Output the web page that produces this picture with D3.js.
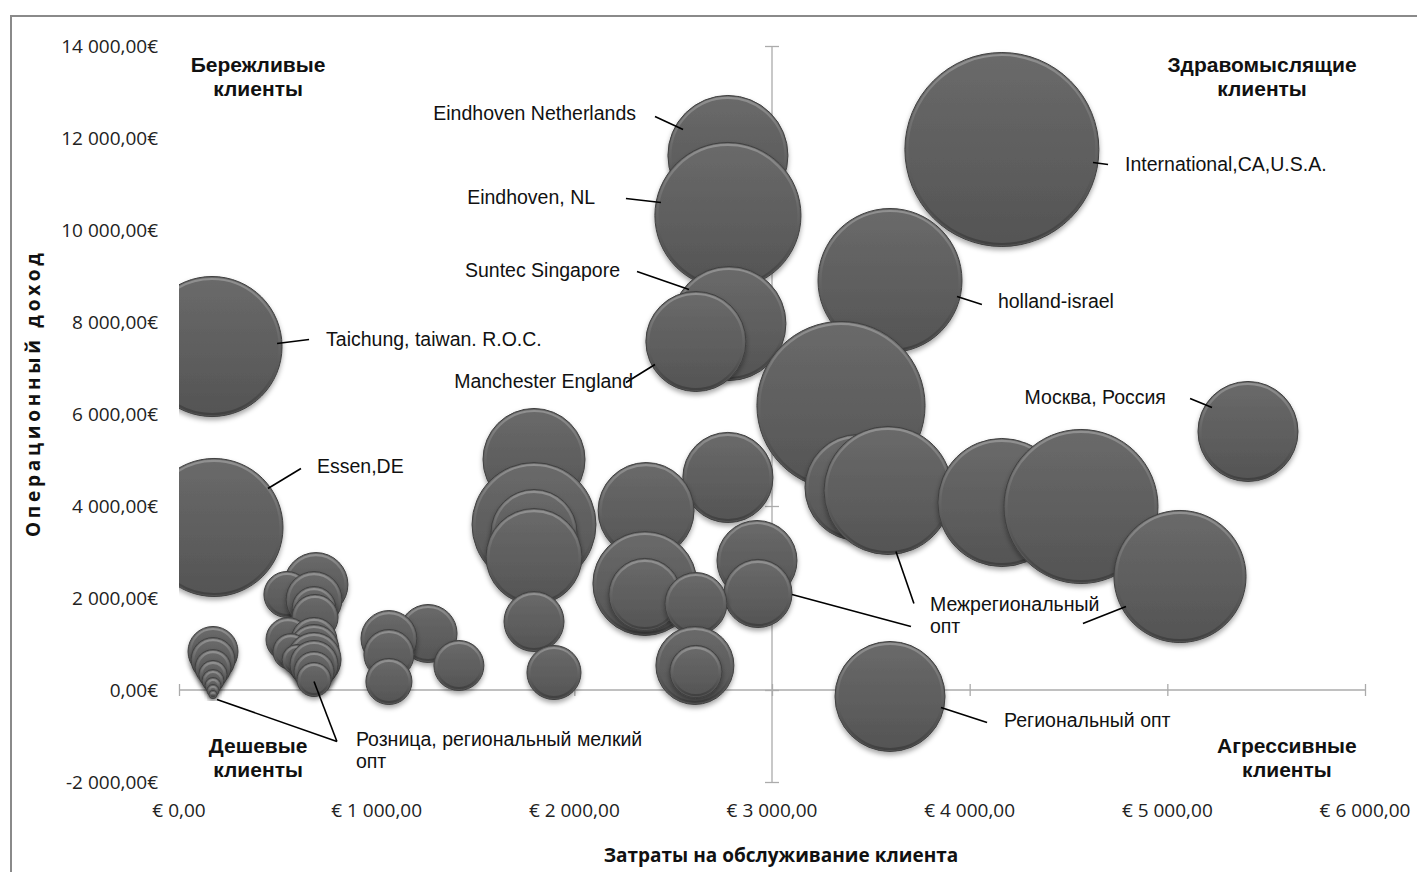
<!DOCTYPE html>
<meta charset="utf-8">
<script src="https://cdn.jsdelivr.net/npm/d3@7"></script>
<html>
<head>
<style>
body { margin: 0; background: #fff; }
.tick-label { font-family: "Open Sans", sans-serif; font-size: 19px; fill: #222; }
.axis-title { font-family: "Open Sans", sans-serif; font-size: 19px; font-weight: bold; fill: #111; }
.note { font-family: "Liberation Sans", Arial, sans-serif; font-size: 19.5px; fill: #111; }
.quad { font-family: "Liberation Sans", Arial, sans-serif; font-size: 21px; font-weight: bold; fill: #111; }
</style>
</head>
<body>
<div id="chart"></div>
<script>

// ---- data ----
var names = [
  "International,CA,U.S.A.", "Eindhoven Netherlands", "Eindhoven, NL", "holland-israel",
  "Suntec Singapore", "Manchester England", "Taichung, taiwan. R.O.C.", "",
  "Москва, Россия", "", "", "", "", "", "", "", "", "Essen,DE", "", "", "", "", "", "",
  "", "", "", "", "", "", "", "", "", "", "", "", "", "", "", "", "", "", "", "", "",
  "", "", "", "", "", "", "", "", "", "", "", "Региональный опт", ""
];
// затраты на обслуживание клиента, €
var cost = [
  4163, 2777, 2777, 3597, 2782, 2615, 167, 3349,
  5408, 1796, 2777, 3435, 3587, 4163, 4563, 2363, 1796, 177, 1796, 1796, 2924, 5064, 2357, 693,
  2929, 2357, 546, 683, 2615, 683, 688, 1796, 1260, 1062, 551, 683, 683, 566, 172, 1062, 683, 597, 172, 683, 1416,
  2610, 172, 683, 2615, 1897, 172, 683, 172, 1062, 172, 172, 3597, 172
];
// операционный доход, €
var income = [
  11750, 11620, 10315, 8902, 7967, 7576, 7467, 6185,
  5620, 5011, 4620, 4402, 4337, 4076, 3989, 3902, 3598, 3533, 3424, 2902, 2815, 2467, 2315, 2293,
  2098, 2076, 2076, 1967, 1880, 1772, 1576, 1489, 1228, 1120, 1098, 1076, 880, 837, 837, 772, 663, 663, 663, 554, 533,
  533, 489, 402, 402, 380, 337, 228, 207, 185, 98, -11, -141, -98
];
// объём (размер пузырька)
var volume = [
  9400, 3600, 5330, 5180, 3250, 2500, 4900, 7060,
  2500, 2600, 2030, 2810, 4100, 4100, 5930, 2300, 3840, 4760, 1850, 2300, 1600, 4360, 2700, 1020,
  1160, 1300, 530, 780, 960, 480, 530, 900, 840, 780, 480, 530, 625, 320, 625, 625, 730, 225, 480, 576, 625,
  1520, 320, 400, 680, 730, 200, 290, 120, 530, 64, 36, 3025, 16
];

var xTicks = [0, 1000, 2000, 3000, 4000, 5000, 6000];
var yTicks = [-2000, 0, 2000, 4000, 6000, 8000, 10000, 12000, 14000];

// подписи и выноски (в координатах данных)
var notes = [
  { text: ["Eindhoven Netherlands"], at: [2312, 12533], anchor: "end", leaders: [[[2550, 12185], [2408, 12467]]] },
  { text: ["Eindhoven, NL"], at: [2105, 10728], anchor: "end", leaders: [[[2438, 10598], [2261, 10685]]] },
  { text: ["Suntec Singapore"], at: [2231, 9141], anchor: "end", leaders: [[[2580, 8707], [2317, 9098]]] },
  { text: ["Manchester England"], at: [2297, 6728], anchor: "end", leaders: [[[2408, 7076], [2261, 6685]]] },
  { text: ["Taichung, taiwan. R.O.C."], at: [744, 7641], anchor: "start", leaders: [[[496, 7533], [658, 7620]]] },
  { text: ["Essen,DE"], at: [698, 4880], anchor: "start", leaders: [[[450, 4380], [617, 4815]]] },
  { text: ["holland-israel"], at: [4143, 8446], anchor: "start", leaders: [[[3936, 8554], [4062, 8380]]] },
  { text: ["International,CA,U.S.A."], at: [4786, 11424], anchor: "start", leaders: [[[4624, 11467], [4700, 11424]]] },
  { text: ["Москва, Россия"], at: [4993, 6359], anchor: "end", leaders: [[[5226, 6141], [5115, 6337]]] },
  { text: ["Региональный опт"], at: [4174, -663], anchor: "start", leaders: [[[3855, -380], [4088, -707]]] },
  { text: ["Межрегиональный", "опт"], at: [3799, 1859], anchor: "start",
    leaders: [[[3627, 3011], [3718, 1880]], [[3101, 2076], [3703, 1380]], [[4791, 1815], [4573, 1446]]] },
  { text: ["Розница, региональный мелкий", "опт"], at: [895, -1076], anchor: "start",
    leaders: [[[192, -207], [799, -1120]], [[683, 185], [799, -1120]]] }
];

var quadrants = [
  { text: ["Бережливые", "клиенты"], at: [400, 13600] },
  { text: ["Здравомыслящие", "клиенты"], at: [5479, 13600] },
  { text: ["Дешевые", "клиенты"], at: [400, -1185] },
  { text: ["Агрессивные", "клиенты"], at: [5605, -1185] }
];

// ---- layout ----
var W = 1417, H = 872;
var margin = { top: 46, right: 52, bottom: 90, left: 179 };
var width = W - margin.left - margin.right,
    height = H - margin.top - margin.bottom;

var svg = d3.select("#chart").append("svg")
    .attr("width", W).attr("height", H);

// рамка диаграммы
svg.append("path")
    .attr("d", "M11,872 V16 H1417")
    .attr("fill", "none").attr("stroke", "#8a8a8a").attr("stroke-width", 2);

var defs = svg.append("defs");
var fill = defs.append("linearGradient").attr("id", "bfill").attr("x1", 0).attr("y1", 0).attr("x2", 0).attr("y2", 1);
fill.append("stop").attr("offset", "0%").attr("stop-color", "#6a6a6a");
fill.append("stop").attr("offset", "100%").attr("stop-color", "#545454");
var bevel = defs.append("linearGradient").attr("id", "bevel").attr("x1", 0).attr("y1", 0).attr("x2", 0).attr("y2", 1);
bevel.append("stop").attr("offset", "0%").attr("stop-color", "#9a9a9a");
bevel.append("stop").attr("offset", "45%").attr("stop-color", "#6a6a6a");
bevel.append("stop").attr("offset", "100%").attr("stop-color", "#3c3c3c");
var shadow = defs.append("filter").attr("id", "shadow")
    .attr("x", "-20%").attr("y", "-20%").attr("width", "140%").attr("height", "150%");
shadow.append("feDropShadow").attr("dx", 0).attr("dy", 3).attr("stdDeviation", 2.5)
    .attr("flood-color", "#000").attr("flood-opacity", 0.35);
defs.append("clipPath").attr("id", "plotclip").append("rect")
    .attr("x", 0).attr("y", -10).attr("width", width + 10).attr("height", height + 20);

var g = svg.append("g").attr("transform", "translate(" + margin.left + "," + margin.top + ")");

var x = d3.scaleLinear().domain([0, 6000]).range([0, width]);
var y = d3.scaleLinear().domain([-2000, 14000]).range([height, 0]);
var r = d3.scaleSqrt().domain([0, d3.max(volume)]).range([0, 97]);

var loc = d3.formatLocale({ decimal: ",", thousands: "\u00a0", grouping: [3], currency: ["", ""], minus: "-" });
var money = loc.format(",.2f");

// подписи осей (снизу и слева)
g.selectAll(".ylab").data(yTicks).enter().append("text")
    .attr("class", "tick-label")
    .attr("x", -21).attr("y", function(d) { return y(d); })
    .attr("dy", "0.35em").attr("text-anchor", "end")
    .text(function(d) { return money(d) + "€"; });

g.selectAll(".xlab").data(xTicks).enter().append("text")
    .attr("class", "tick-label")
    .attr("x", function(d) { return x(d); }).attr("y", height + 28)
    .attr("dy", "0.35em").attr("text-anchor", "middle")
    .text(function(d) { return "€ " + money(d); });

// оси, пересекающиеся в точке (3000; 0)
var axisColor = "#ababab";
var xAxis = g.append("g").attr("transform", "translate(0," + y(0) + ")")
    .call(d3.axisBottom(x).tickValues(xTicks).tickSize(6).tickFormat(""));
var yAxis = g.append("g").attr("transform", "translate(" + x(3000) + ",0)")
    .call(d3.axisLeft(y).tickValues(yTicks).tickSize(7).tickFormat(""));
[xAxis, yAxis].forEach(function(a) {
  a.select(".domain").attr("stroke", axisColor).attr("stroke-width", 1.3);
  a.selectAll(".tick line").attr("stroke", axisColor).attr("stroke-width", 1.3);
});
// cross ticks
xAxis.selectAll(".tick line").attr("y1", -6).attr("y2", 6);
yAxis.selectAll(".tick line").attr("x1", -7).attr("x2", 7);
xAxis.select(".domain").attr("d", "M0,0H" + width);
yAxis.select(".domain").attr("d", "M0," + y(-2000) + "V" + y(14000));

// пузырьки
var points = names.map(function(n, i) {
  return { name: n, cost: cost[i], income: income[i], volume: volume[i] };
}).sort(function(a, b) { return b.income - a.income; });

var bubbles = g.append("g").attr("clip-path", "url(#plotclip)")
  .selectAll("g.bubble").data(points).enter().append("g").attr("class", "bubble");

bubbles.append("circle")
    .attr("cx", function(d) { return x(d.cost); })
    .attr("cy", function(d) { return y(d.income); })
    .attr("r", function(d) { return r(d.volume); })
    .attr("fill", "url(#bfill)")
    .attr("stroke", "#404040").attr("stroke-width", 1)
    .attr("filter", "url(#shadow)");
bubbles.append("circle")
    .attr("cx", function(d) { return x(d.cost); })
    .attr("cy", function(d) { return y(d.income); })
    .attr("r", function(d) { return Math.max(0, r(d.volume) - 2.5); })
    .attr("fill", "none")
    .attr("stroke", "url(#bevel)").attr("stroke-width", 2.2).attr("stroke-opacity", 0.8);
bubbles.append("title").text(function(d) { return d.name; });

// выноски и подписи
var ann = g.append("g");
notes.forEach(function(n) {
  n.leaders.forEach(function(l) {
    ann.append("line")
      .attr("x1", x(l[0][0])).attr("y1", y(l[0][1]))
      .attr("x2", x(l[1][0])).attr("y2", y(l[1][1]))
      .attr("stroke", "#000").attr("stroke-width", 1.6);
  });
  var t = ann.append("text").attr("class", "note")
      .attr("text-anchor", n.anchor).attr("dominant-baseline", "central")
      .attr("y", y(n.at[1]));
  n.text.forEach(function(s, i) {
    t.append("tspan").attr("x", x(n.at[0])).attr("dy", i ? 22 : 0).text(s);
  });
});

quadrants.forEach(function(q) {
  var t = ann.append("text").attr("class", "quad")
      .attr("text-anchor", "middle").attr("dominant-baseline", "central")
      .attr("y", y(q.at[1]));
  q.text.forEach(function(s, i) {
    t.append("tspan").attr("x", x(q.at[0])).attr("dy", i ? 24 : 0).text(s);
  });
});

// заголовки осей
svg.append("text").attr("class", "axis-title")
    .attr("x", 781).attr("y", 855).attr("text-anchor", "middle").attr("dominant-baseline", "central")
    .text("Затраты на обслуживание клиента");
svg.append("text").attr("class", "axis-title")
    .attr("transform", "translate(33,395) rotate(-90)")
    .attr("text-anchor", "middle").attr("dominant-baseline", "central")
    .attr("textLength", 284).attr("lengthAdjust", "spacing")
    .text("Операционный доход");

</script>
</body>
</html>
